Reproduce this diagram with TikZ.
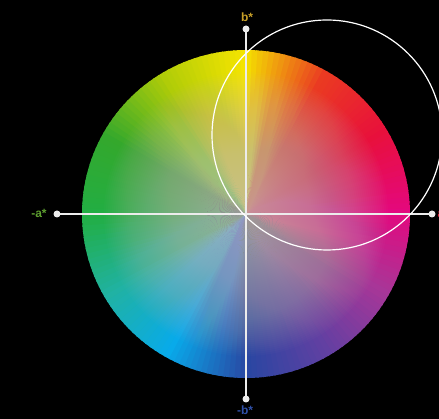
\documentclass[tikz,border=0pt]{standalone}
\usepackage{fontspec}
\setmainfont{Liberation Sans}
\definecolor{c0}{HTML}{E4087E}
\definecolor{c1}{HTML}{E8103C}
\definecolor{c2}{HTML}{EA3A22}
\definecolor{c3}{HTML}{F4E400}
\definecolor{c4}{HTML}{B0CC08}
\definecolor{c5}{HTML}{34A82C}
\definecolor{c6}{HTML}{22AE44}
\definecolor{c7}{HTML}{20B2A4}
\definecolor{c8}{HTML}{08AAEA}
\definecolor{c9}{HTML}{2A46A2}
\definecolor{c10}{HTML}{6240A2}
\definecolor{c11}{HTML}{A83698}
\definecolor{c12}{HTML}{E4087E}
\definecolor{axiscol}{HTML}{ECECEC}
\definecolor{labb}{HTML}{C8A028}
\definecolor{laba}{HTML}{5EA030}
\definecolor{labmb}{HTML}{3050A8}
\definecolor{labpa}{HTML}{E0203A}
\definecolor{centergray}{HTML}{C8C0C0}
\tikzset{
  axisline/.style={draw=axiscol, line width=2.6pt},
  axisdot/.style={circle, fill=axiscol, inner sep=0pt, minimum size=7pt},
  axislabel/.style={font=\fontsize{12}{12}\selectfont\bfseries, inner sep=0pt},
  ringline/.style={draw=white, line width=1.2pt},
  paleveil/.style={fill=centergray, fill opacity=0.024}
}
\begin{document}
\begin{tikzpicture}[x=1pt,y=1pt]
\fill[black] (0,0) rectangle (439,419);
\useasboundingbox (0,0) rectangle (439,419);
\coordinate (C) at (246,205);
% colour wheel: hue wedges
\foreach \k [evaluate=\k as \kn using int(\k+1)] in {0,...,11}{
  \foreach \j in {0,...,14}{
    \pgfmathtruncatemacro\p{100-\j*100/15}
    \pgfmathsetmacro\s{\k*30+\j*2}
    \pgfmathsetmacro\e{\s+2.6}
    \fill[c\k!\p!c\kn] (C) -- ++(\s:164) arc[start angle=\s, end angle=\e, radius=164pt] -- cycle;
  }
}
% pale centre: stacked translucent discs
\foreach \r in {2,4,...,142}{
  \fill[paleveil] (C) circle[radius=\r pt];
}
% axes
\coordinate (L) at (57,205);
\coordinate (R) at (432,205);
\coordinate (T) at (246,390);
\coordinate (B) at (246,20);
\draw[axisline] (L) -- (R);
\draw[axisline] (B) -- (T);
\node[axisdot] (dl) at (L) {};
\node[axisdot] (dr) at (R) {};
\node[axisdot] (dt) at (T) {};
\node[axisdot] (db) at (B) {};
% labels
\node[axislabel, text=labb] (lb) at (247,402) {b*};
\node[axislabel, text=laba] (la) at (39,206) {-a*};
\node[axislabel, text=labmb] (lmb) at (245,9) {-b*};
\node[axislabel, text=labpa, anchor=west] (lpa) at (437.5,206) {a*};
% white ring
\coordinate (RC) at (327,284);
\draw[ringline] (RC) circle[radius=115pt];
\end{tikzpicture}
\end{document}
